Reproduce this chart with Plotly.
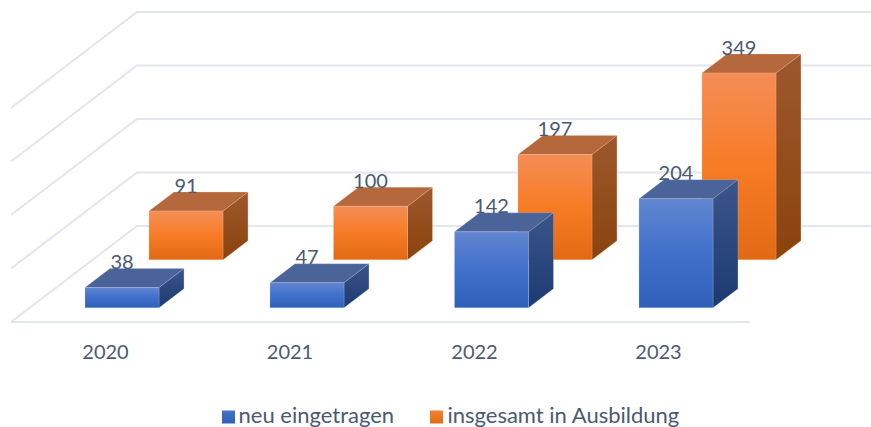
import plotly.graph_objects as go

# ---- data ----
years = ["2020", "2021", "2022", "2023"]
neu_eingetragen = [38, 47, 142, 204]
insgesamt = [91, 100, 197, 349]
grid_values = [0, 100, 200, 300, 400]
series_names = ["neu eingetragen", "insgesamt in Ausbildung"]

# ---- oblique projection / layout settings ----
W, H = 871, 427
PX_PER_UNIT = 0.535
FLOOR_Y = 322            # pixel row of value 0 on the front edge
LEFT_X, BACK_X = 11, 137
FLOOR_DEPTH = 96         # pixel rise from front edge to back wall
DEPTH_RATIO = (BACK_X - LEFT_X) / FLOOR_DEPTH
BAR_W, BAR_DEPTH = 74, 19
TEXT = "#4A5A72"
FONT = "Lato"
GRID = "#E2E5EE"


def proj(x, depth, value):
    """front-plane x + depth (px) + value -> plot coordinates"""
    return x + depth * DEPTH_RATIO, value + depth / PX_PER_UNIT


def poly(points):
    xs, ys = zip(*points)
    return list(xs) + [xs[0]], list(ys) + [ys[0]]


fig = go.Figure()

# ---- gridlines ----
for v in grid_values:
    x1, y1 = proj(LEFT_X, FLOOR_DEPTH, v)
    fig.add_trace(go.Scatter(x=[LEFT_X, x1, W], y=[v, y1, y1], mode="lines",
                             line=dict(color=GRID, width=2),
                             hoverinfo="skip", showlegend=False))
fig.add_trace(go.Scatter(x=[LEFT_X, 750], y=[grid_values[0]] * 2, mode="lines",
                         line=dict(color=GRID, width=2), hoverinfo="skip", showlegend=False))


def bar(x, depth, value, name, front, side, top, edge):
    # x is the left edge of the bar's front face as it appears on screen
    x = x - depth * DEPTH_RATIO
    a = proj(x, depth, 0)
    b = proj(x + BAR_W, depth, 0)
    c = proj(x + BAR_W, depth, value)
    d = proj(x, depth, value)
    e = proj(x + BAR_W, depth + BAR_DEPTH, 0)
    f = proj(x + BAR_W, depth + BAR_DEPTH, value)
    g = proj(x, depth + BAR_DEPTH, value)

    def face(pts, scale, solid=None):
        xs, ys = poly(pts)
        kw = dict(fillcolor=solid) if solid else dict(
            fillgradient=dict(type="vertical", colorscale=scale,
                              start=min(ys), stop=max(ys)))
        fig.add_trace(go.Scatter(x=xs, y=ys, mode="lines", fill="toself",
                                 line=dict(color=edge, width=0.5),
                                 hoverinfo="skip", showlegend=False, name=name, **kw))

    face([b, e, f, c], side)
    face([d, c, f, g], None, solid=top)
    face([a, b, c, d], front)


BLUE = dict(front=[[0, "#2F60B9"], [0.5, "#3F70CB"], [1, "#6286D0"]],
            side=[[0, "#1C3A72"], [1, "#3A5589"]],
            top="#4A6399", edge="rgba(190,205,235,0.5)")
ORANGE = dict(front=[[0, "#E26A14"], [0.5, "#F87B25"], [1, "#F48E56"]],
              side=[[0, "#8B430D"], [1, "#9C582D"]],
              top="#B5683C", edge="rgba(250,195,160,0.5)")

blue_x = [85, 270, 454.5, 639]
orange_x = [149, 333.5, 518, 702]
blue_depth = 322 - 307.8
orange_depth = 322 - 259.8

for i in range(len(years)):
    bar(orange_x[i], orange_depth, insgesamt[i], series_names[1], **ORANGE)
for i in range(len(years)):
    bar(blue_x[i], blue_depth, neu_eingetragen[i], series_names[0], **BLUE)

# ---- value labels ----
LABEL_RISE = 23.5 / PX_PER_UNIT
lx, ly, lt = [], [], []
for xs, vals, depth in ((blue_x, neu_eingetragen, blue_depth), (orange_x, insgesamt, orange_depth)):
    for x, v in zip(xs, vals):
        lx.append(x + BAR_W / 2)
        ly.append(v + depth / PX_PER_UNIT + LABEL_RISE)
        lt.append(str(v))
fig.add_trace(go.Scatter(x=lx, y=ly, text=lt, mode="text", textposition="middle center",
                         textfont=dict(family=FONT, size=20, color=TEXT),
                         hoverinfo="skip", showlegend=False))

# ---- category labels ----
cat_x = [105.5, 290, 474.5, 658.5]
cat_y = (FLOOR_Y - 354) / PX_PER_UNIT
fig.add_trace(go.Scatter(x=cat_x, y=[cat_y] * 4, text=years, mode="text",
                         textposition="middle center",
                         textfont=dict(family=FONT, size=20, color=TEXT),
                         hoverinfo="skip", showlegend=False))

# ---- legend ----
swatch_y = (FLOOR_Y - 417) / PX_PER_UNIT
leg_text_y = (FLOOR_Y - 417.5) / PX_PER_UNIT
fig.add_trace(go.Scatter(x=[228.5, 436.5], y=[swatch_y] * 2, mode="markers",
                         marker=dict(symbol="square", size=13, color=["#4472C4", "#F48135"],
                                     gradient=dict(type="vertical", color=["#3060B8", "#E56A14"])),
                         hoverinfo="skip", showlegend=False))
fig.add_trace(go.Scatter(x=[238.5, 447.5], y=[leg_text_y] * 2, mode="text", text=series_names,
                         textposition="middle right",
                         textfont=dict(family=FONT, size=22, color=TEXT),
                         hoverinfo="skip", showlegend=False))

fig.update_layout(
    width=W, height=H, margin=dict(l=0, r=0, t=0, b=0),
    paper_bgcolor="white", plot_bgcolor="white", showlegend=False,
    xaxis=dict(range=[0, W], visible=False, fixedrange=True),
    yaxis=dict(range=[(FLOOR_Y - H) / PX_PER_UNIT, FLOOR_Y / PX_PER_UNIT],
               visible=False, fixedrange=True),
)
fig.write_html("out.html", config=dict(displayModeBar=False),
               post_script="document.body.style.margin='0';document.body.style.overflow='hidden';")
